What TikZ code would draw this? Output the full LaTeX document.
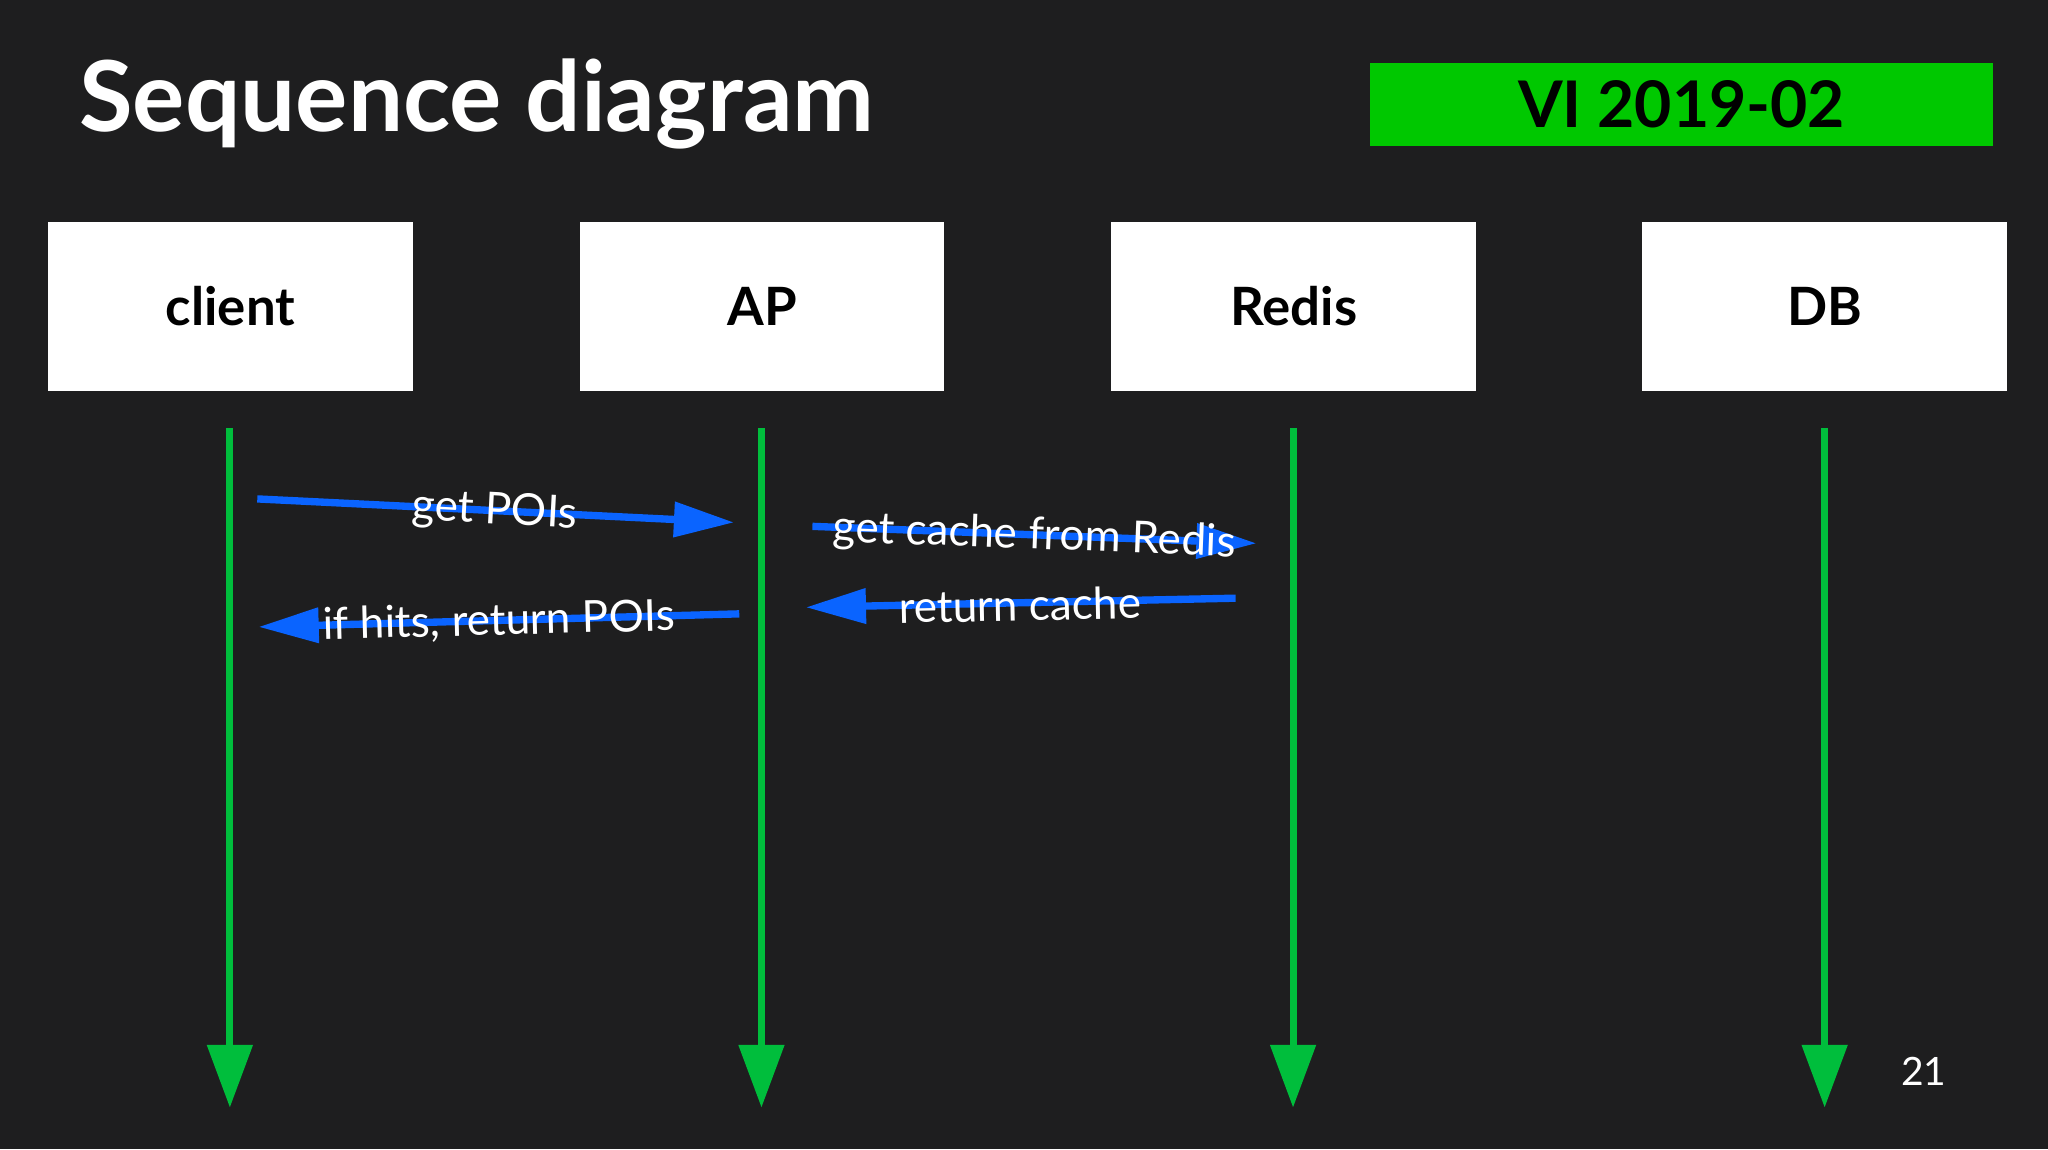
\documentclass[tikz,border=0pt]{standalone}
\usepackage{fontspec}
\setmainfont{Lato}
\usetikzlibrary{arrows.meta}
\definecolor{bg}{RGB}{30,30,31}
\definecolor{slidegreen}{RGB}{0,200,0}
\definecolor{lifegreen}{RGB}{0,190,60}
\definecolor{msgblue}{RGB}{10,100,255}

\begin{document}
\begin{tikzpicture}[x=0.01cm,y=-0.01cm,
    actor/.style={fill=white,minimum width=2.79cm,minimum height=1.29cm,font=\fontsize{11.5}{14}\selectfont\bfseries},
    life/.style={draw=lifegreen,line width=1.5pt,-{Triangle[length=0.48cm,width=0.34cm]}},
    msg/.style={draw=msgblue,line width=1.6pt,-{Triangle[length=0.46cm,width=0.26cm]}},
    msglabel/.style={text=white,font=\fontsize{9.6}{12}\selectfont,inner sep=0pt}]
    \fill[bg] (0,0) rectangle (1568,880);
    \useasboundingbox (0,0) rectangle (1568,880);

    \node[anchor=west,text=white,font=\fontsize{21.3}{25}\selectfont\bfseries,inner sep=0pt] (title) at (60,80) {Sequence diagram};
    \node[fill=slidegreen,minimum width=4.77cm,minimum height=0.64cm,font=\fontsize{14}{17}\selectfont\bfseries] (tag) at (1287.5,80) {VI 2019-02};

    \begin{scope}[every node/.style={actor}]
        \node (client) at (176.5,234.5) {client};
        \node (AP) at (583.5,234.5) {AP};
        \node (Redis) at (990.5,234.5) {Redis};
        \node (DB) at (1397,234.5) {DB};
    \end{scope}

    % lifelines
    \foreach \n/\x in {client/176,AP/583,Redis/990,DB/1397}{
        \coordinate (\n top) at (\x,328);
        \coordinate (\n end) at (\x,848);
        \draw[life] (\n top) -- (\n end);
    }

    % messages
    \coordinate (m1a) at (197,382); \coordinate (m1b) at (562,400);
    \coordinate (m2a) at (622,403); \coordinate (m2b) at (962,416);
    \coordinate (m3a) at (566,470); \coordinate (m3b) at (198,480);
    \coordinate (m4a) at (946,458); \coordinate (m4b) at (617,465);
    \draw[msg] (m1a) -- (m1b);
    \draw[msg] (m2a) -- (m2b);
    \draw[msg] (m3a) -- (m3b);
    \draw[msg] (m4a) -- (m4b);
    \node[msglabel,rotate=-3] (l1) at (379,392) {get POIs};
    \node[msglabel,rotate=-2.2] (l2) at (792,411) {get cache from Redis};
    \node[msglabel,rotate=1.5] (l3) at (382,476) {if hits, return POIs};
    \node[msglabel,rotate=1.2] (l4) at (781,463) {return cache};

    \node[text=white,font=\fontsize{8.5}{10}\selectfont] (page) at (1473,820) {21};
\end{tikzpicture}
\end{document}
